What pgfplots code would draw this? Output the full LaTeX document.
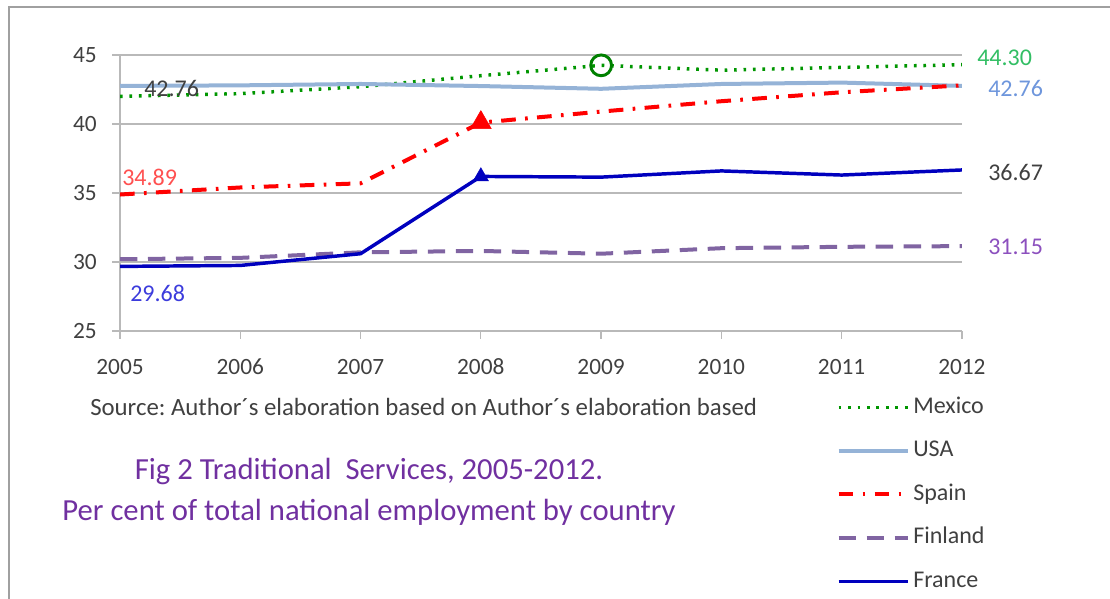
\documentclass[border=0pt]{standalone}
\usepackage{pgfplots}
\pgfplotsset{compat=1.18}
\usepackage{fontspec}
\setmainfont{Carlito}
\frenchspacing
\definecolor{mexgreen}{RGB}{0,150,0}
\definecolor{mexlab}{RGB}{50,190,100}
\definecolor{usablue}{RGB}{149,179,215}
\definecolor{usalab}{RGB}{110,150,220}
\definecolor{spred}{RGB}{255,0,0}
\definecolor{splab}{RGB}{255,80,80}
\definecolor{finpurp}{RGB}{128,100,162}
\definecolor{finlab}{RGB}{140,80,190}
\definecolor{frblue}{RGB}{0,0,190}
\definecolor{frlab}{RGB}{60,60,220}
\definecolor{txtgray}{RGB}{64,64,64}
\definecolor{titlepurp}{RGB}{112,48,160}
\definecolor{gridgray}{RGB}{185,185,185}

\pgfplotstableread{
year Mexico USA Spain Finland France
2005 42.00 42.76 34.89 30.20 29.68
2006 42.20 42.80 35.40 30.30 29.75
2007 42.70 42.90 35.70 30.70 30.60
2008 43.50 42.75 40.10 30.80 36.20
2009 44.25 42.55 40.90 30.60 36.15
2010 43.90 42.90 41.65 31.00 36.60
2011 44.10 43.00 42.30 31.10 36.30
2012 44.30 42.76 42.80 31.15 36.67
}\datatable

\begin{document}
\begin{tikzpicture}[x=0.75pt,y=0.75pt]
\path[use as bounding box] (0,0) rectangle (1110,599);
\draw[color={rgb,255:red,160;green,160;blue,160}, line width=1.8pt] (9,-5) -- (9,592) -- (1115,592);
\coordinate (O) at (120,268);
\begin{axis}[
  at={(O)}, anchor=south west,
  scale only axis, width=631.5pt, height=207pt,
  xmin=2005, xmax=2012, ymin=25, ymax=45,
  xtick={2005,...,2012}, ytick={25,30,...,45},
  axis x line*=bottom, axis y line*=left,
  axis line style={draw=gridgray, line width=0.9pt, -},
  ymajorgrids, grid style={draw=gridgray, line width=0.9pt},
  tick style={draw=gridgray, line width=0.9pt},
  tick align=outside, major tick length=6pt,
  /pgf/number format/assume math mode=true,
  /pgf/number format/set thousands separator={},
  tick label style={font=\fontsize{17.5}{20}\selectfont, text=txtgray},
  xticklabel style={anchor=center, text height=12pt, text depth=0pt, yshift=-21pt},
  yticklabel style={xshift=-8pt},
  legend style={draw=none, fill=none, at={(rel axis cs:0.846,-0.225)}, anchor=north west,
    font=\fontsize{18}{21}\selectfont, text=txtgray,
    nodes={inner sep=0pt, text height=13pt, text depth=4pt},
    row sep=15.6pt},
  legend cell align=left,
  /tikz/every odd column/.append style={column sep=2.5pt},
  legend image code/.code={\draw[#1] (0pt,0pt) -- (52pt,0pt);},
]
\addplot[mexgreen, line width=2.6pt, dash pattern=on 2pt off 5.1pt] table[x=year,y=Mexico]{\datatable};
\addlegendentry{Mexico}
\addplot[usablue, line width=3pt] table[x=year,y=USA]{\datatable};
\addlegendentry{USA}
\addplot[spred, line width=3pt, dash pattern=on 11pt off 7pt on 2pt off 7pt] table[x=year,y=Spain]{\datatable};
\addlegendentry{Spain}
\addplot[finpurp, line width=3pt, dash pattern=on 13pt off 8pt] table[x=year,y=Finland]{\datatable};
\addlegendentry{Finland}
\addplot[frblue, line width=2.6pt] table[x=year,y=France]{\datatable};
\addlegendentry{France}
\addplot[only marks, forget plot, mark=o, mark size=7.8pt, mexgreen!85!black, line width=2.2pt, fill=white] coordinates {(2009,44.25)};
\addplot[only marks, forget plot, mark=triangle*, mark size=9pt, spred] coordinates {(2008,40.10)};
\addplot[only marks, forget plot, mark=triangle*, mark size=6.5pt, frblue] coordinates {(2008,36.20)};
\end{axis}
\begin{scope}[font=\fontsize{18}{21}\selectfont]
\node[anchor=west, text=txtgray, inner sep=0pt] at (144,511) {42.76};
\node[anchor=west, text=splab, inner sep=0pt] at (122,422) {34.89};
\node[anchor=west, text=frlab, inner sep=0pt] at (130,306) {29.68};
\node[anchor=west, text=mexlab, inner sep=0pt] at (977,541) {44.30};
\node[anchor=west, text=usalab, inner sep=0pt] at (988,511) {42.76};
\node[anchor=west, text=txtgray, inner sep=0pt] at (988,427) {36.67};
\node[anchor=west, text=finlab, inner sep=0pt] at (988,352) {31.15};
\end{scope}
\node[anchor=west, text=txtgray, inner sep=0pt, font=\fontsize{18.6}{21}\selectfont] at (90,192) {Source: Author´s elaboration based on Author´s elaboration based};
\node[text=titlepurp, align=center, font=\fontsize{23}{31}\selectfont, inner sep=0pt] at (369,107) {Fig 2 Traditional\ \ Services, 2005-2012.\\Per cent of total national employment by country};
\end{tikzpicture}
\end{document}
